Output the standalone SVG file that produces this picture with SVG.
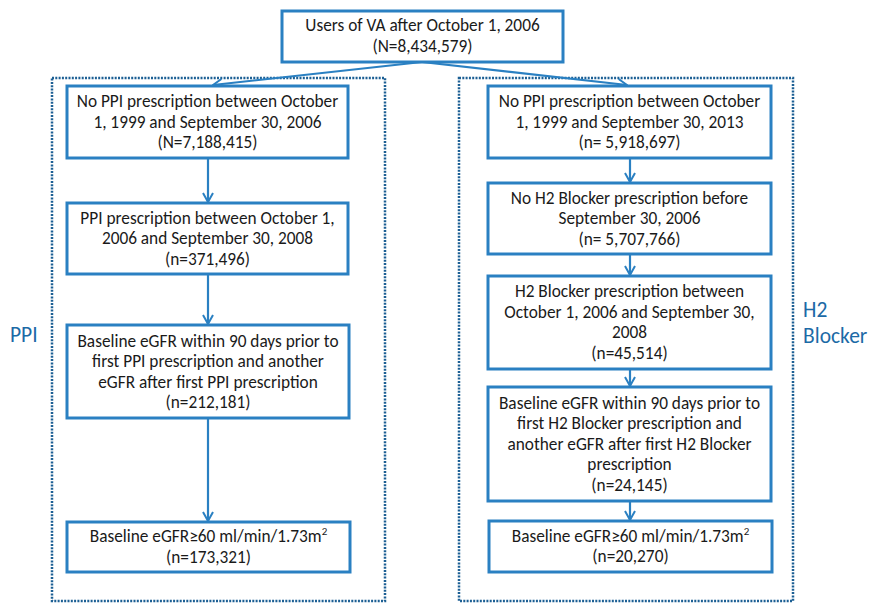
<svg xmlns="http://www.w3.org/2000/svg" width="869" height="603" viewBox="0 0 869 603">
<style>
.box{fill:#fff;stroke:#2a80c2;stroke-width:3}
.grp{fill:none;stroke:#1c5f94;stroke-width:2.5;stroke-dasharray:2 1.3}
.t{font-family:"Carlito","Liberation Sans",Arial,sans-serif;font-size:17.3px;fill:#1a1a1a;text-anchor:middle}
.lab{font-family:"Carlito","Liberation Sans",Arial,sans-serif;font-size:21.5px;fill:#1c6aa6}
.c{fill:none;stroke:#2a80c2;stroke-width:2.2}
</style>
<defs>
<marker id="ah" viewBox="0 0 12 12" refX="11" refY="6" markerWidth="12" markerHeight="12" markerUnits="userSpaceOnUse" orient="auto">
<path d="M2,1 L11,6 L2,11" fill="none" stroke="#2a80c2" stroke-width="2"/>
</marker>
</defs>
<rect width="869" height="603" fill="#fff"/>
<g id="group-ppi"><rect class="grp" x="52" y="78" width="333" height="523"/></g>
<g id="group-h2"><rect class="grp" x="459" y="78" width="334" height="523"/></g>
<g id="label-ppi"><text class="lab" x="10" y="342">PPI</text></g>
<g id="label-h2"><text class="lab" x="803" y="317">H2</text><text class="lab" x="803" y="343">Blocker</text></g>
<g id="connectors">
<path class="c" marker-end="url(#ah)" d="M422,62 L213,85"/>
<path class="c" marker-end="url(#ah)" d="M422,62 L627,85"/>
<path class="c" marker-end="url(#ah)" d="M208,158 L208,202"/>
<path class="c" marker-end="url(#ah)" d="M208,274 L208,324"/>
<path class="c" marker-end="url(#ah)" d="M208,418 L208,521"/>
<path class="c" marker-end="url(#ah)" d="M630,158 L630,182"/>
<path class="c" marker-end="url(#ah)" d="M630,254 L630,275"/>
<path class="c" marker-end="url(#ah)" d="M630,369 L630,386"/>
<path class="c" marker-end="url(#ah)" d="M630,501 L630,520"/>
</g>
<g id="n-top"><rect class="box" x="282" y="11" width="281" height="51"/>
<text class="t" x="422.5" y="31">Users of VA after October 1, 2006</text>
<text class="t" x="422.5" y="52">(N=8,434,579)</text></g>
<g id="n-l1"><rect class="box" x="67" y="86" width="281" height="72"/>
<text class="t" x="207.5" y="107">No PPI prescription between October</text>
<text class="t" x="207.5" y="127.5">1, 1999 and September 30, 2006</text>
<text class="t" x="207.5" y="148">(N=7,188,415)</text></g>
<g id="n-l2"><rect class="box" x="67" y="203" width="281" height="71"/>
<text class="t" x="207.5" y="223.5">PPI prescription between October 1,</text>
<text class="t" x="207.5" y="244">2006 and September 30, 2008</text>
<text class="t" x="207.5" y="264.5">(n=371,496)</text></g>
<g id="n-l3"><rect class="box" x="67" y="325" width="282" height="93"/>
<text class="t" x="208" y="346.5">Baseline eGFR within 90 days prior to</text>
<text class="t" x="208" y="367">first PPI prescription and another</text>
<text class="t" x="208" y="387.5">eGFR after first PPI prescription</text>
<text class="t" x="208" y="408">(n=212,181)</text></g>
<g id="n-l4"><rect class="box" x="67" y="522" width="283" height="50"/>
<text class="t" x="208.5" y="542">Baseline eGFR≥60 ml/min/1.73m<tspan font-size="11" dy="-7">2</tspan></text>
<text class="t" x="208.5" y="562.5">(n=173,321)</text></g>
<g id="n-r1"><rect class="box" x="488" y="86" width="283" height="72"/>
<text class="t" x="629.5" y="107">No PPI prescription between October</text>
<text class="t" x="629.5" y="127.5">1, 1999 and September 30, 2013</text>
<text class="t" x="629.5" y="148">(n= 5,918,697)</text></g>
<g id="n-r2"><rect class="box" x="488" y="183" width="283" height="71"/>
<text class="t" x="629.5" y="203.5">No H2 Blocker prescription before</text>
<text class="t" x="629.5" y="224">September 30, 2006</text>
<text class="t" x="629.5" y="244.5">(n= 5,707,766)</text></g>
<g id="n-r3"><rect class="box" x="488" y="276" width="283" height="93"/>
<text class="t" x="629.5" y="297">H2 Blocker prescription between</text>
<text class="t" x="629.5" y="317.5">October 1, 2006 and September 30,</text>
<text class="t" x="629.5" y="338">2008</text>
<text class="t" x="629.5" y="358.5">(n=45,514)</text></g>
<g id="n-r4"><rect class="box" x="488" y="387" width="283" height="114"/>
<text class="t" x="629.5" y="408.5">Baseline eGFR within 90 days prior to</text>
<text class="t" x="629.5" y="429">first H2 Blocker prescription and</text>
<text class="t" x="629.5" y="449.5">another eGFR after first H2 Blocker</text>
<text class="t" x="629.5" y="470">prescription</text>
<text class="t" x="629.5" y="490.5">(n=24,145)</text></g>
<g id="n-r5"><rect class="box" x="489" y="521" width="283" height="51"/>
<text class="t" x="630.5" y="541.5">Baseline eGFR≥60 ml/min/1.73m<tspan font-size="11" dy="-7">2</tspan></text>
<text class="t" x="630.5" y="562">(n=20,270)</text></g>
</svg>
